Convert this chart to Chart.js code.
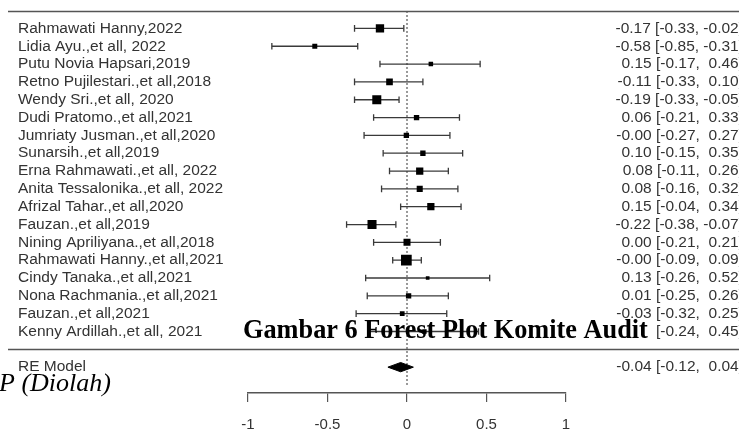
<!DOCTYPE html>
<html>
<head>
<meta charset="utf-8">
<script src="https://cdn.jsdelivr.net/npm/chart.js@4.4.0/dist/chart.umd.min.js"></script>
<style>
  html, body { margin: 0; padding: 0; background: #fff; }
</style>
</head>
<body>
<canvas id="chart" width="739" height="429"></canvas>
<script>
const studies = [
  'Rahmawati Hanny,2022',
  'Lidia Ayu.,et all, 2022',
  'Putu Novia Hapsari,2019',
  'Retno Pujilestari.,et all,2018',
  'Wendy Sri.,et all, 2020',
  'Dudi Pratomo.,et all,2021',
  'Jumriaty Jusman.,et all,2020',
  'Sunarsih.,et all,2019',
  'Erna Rahmawati.,et all, 2022',
  'Anita Tessalonika.,et all, 2022',
  'Afrizal Tahar.,et all,2020',
  'Fauzan.,et all,2019',
  'Nining Apriliyana.,et all,2018',
  'Rahmawati Hanny.,et all,2021',
  'Cindy Tanaka.,et all,2021',
  'Nona Rachmania.,et all,2021',
  'Fauzan.,et all,2021',
  'Kenny Ardillah.,et all, 2021'
];
const estimates = [-0.17, -0.58, 0.15, -0.11, -0.19, 0.06, -0.004, 0.10, 0.08, 0.08, 0.15, -0.22, 0.00, -0.004, 0.13, 0.01, -0.03, 0.11];
const lower     = [-0.33, -0.85, -0.17, -0.33, -0.33, -0.21, -0.27, -0.15, -0.11, -0.16, -0.04, -0.38, -0.21, -0.09, -0.26, -0.25, -0.32, -0.24];
const upper     = [-0.02, -0.31, 0.46, 0.10, -0.05, 0.33, 0.27, 0.35, 0.26, 0.32, 0.34, -0.07, 0.21, 0.09, 0.52, 0.26, 0.25, 0.45];
// relative weights (%)
const weights   = [7.0, 4.2, 3.8, 5.6, 7.6, 4.5, 4.5, 4.5, 6.1, 5.1, 6.1, 7.6, 5.9, 9.0, 3.1, 4.5, 4.0, 3.6];

const reLabel = 'RE Model';
const reEstimate = -0.04;
const reLower = -0.12;
const reUpper = 0.04;

const xTicks = [-1, -0.5, 0, 0.5, 1];
const xTickLabels = ['-1', '-0.5', '0', '0.5', '1'];

const caption = 'Gambar 6 Forest Plot Komite Audit';
const captionTail = 'Audit';
const source = 'P (Diolah)';

const rows = studies.map((s, i) => studies.length - i);
const topRow = studies.length + 1;
const reRow = -1;

function pad(v) {
  const s = v.toFixed(2);
  return s.length < 5 ? ' ' + s : s;
}
function ciText(e, lo, hi) {
  return e.toFixed(2) + ' [' + pad(lo) + ', ' + pad(hi) + ']';
}

const lineColor = '#3a3a3a';

const datasets = [];
datasets.push({
  label: 'estimates',
  data: estimates.map((e, i) => ({ x: e, y: rows[i] })),
  pointStyle: 'rect',
  pointRadius: weights.map(w => w * 0.84),
  backgroundColor: '#000',
  borderWidth: 0,
  pointBorderWidth: 0
});
datasets.push({
  label: 'summary',
  type: 'line',
  data: [
    { x: reLower, y: reRow },
    { x: reEstimate, y: reRow + 0.26 },
    { x: reUpper, y: reRow },
    { x: reEstimate, y: reRow - 0.26 },
    { x: reLower, y: reRow }
  ],
  borderColor: '#000',
  backgroundColor: '#000',
  borderWidth: 1,
  fill: 'shape',
  pointRadius: 0,
  tension: 0
});
studies.forEach((s, i) => {
  datasets.push({
    label: s,
    type: 'line',
    data: [{ x: lower[i], y: rows[i] }, { x: upper[i], y: rows[i] }],
    borderColor: lineColor,
    borderWidth: 1.3,
    pointStyle: 'line',
    pointRotation: 90,
    pointRadius: 3.3,
    pointBorderColor: lineColor,
    pointBorderWidth: 1.3,
    fill: false
  });
});
datasets.push({
  label: 'ref',
  type: 'line',
  data: [{ x: 0, y: -2 }, { x: 0, y: topRow }],
  borderColor: '#555',
  borderWidth: 1.2,
  borderDash: [2, 2],
  pointRadius: 0,
  fill: false
});

const forestText = {
  id: 'forestText',
  afterDraw(chart) {
    const ctx = chart.ctx;
    const ys = chart.scales.y;
    const W = chart.width;
    ctx.save();
    // separator lines
    ctx.strokeStyle = '#555';
    ctx.lineWidth = 1.5;
    [topRow, 0].forEach(v => {
      const y = Math.round(ys.getPixelForValue(v)) + 0.5;
      ctx.beginPath();
      ctx.moveTo(8, y);
      ctx.lineTo(W, y);
      ctx.stroke();
    });
    ctx.font = '15.5px "Liberation Sans", Arial, sans-serif';
    ctx.fillStyle = '#333';
    ctx.textBaseline = 'middle';
    studies.forEach((s, i) => {
      const y = ys.getPixelForValue(rows[i]);
      ctx.textAlign = 'left';
      ctx.fillText(s, 18, y);
      ctx.textAlign = 'right';
      ctx.fillText(ciText(estimates[i], lower[i], upper[i]), W + 4, y);
    });
    const yRe = ys.getPixelForValue(reRow);
    ctx.textAlign = 'left';
    ctx.fillText(reLabel, 18, yRe);
    ctx.textAlign = 'right';
    ctx.fillText(ciText(reEstimate, reLower, reUpper), W + 4, yRe);

    // caption overlay
    ctx.font = 'bold 26.3px "Liberation Serif", "Times New Roman", serif';
    ctx.textAlign = 'left';
    ctx.textBaseline = 'alphabetic';
    const cx = 243, cy = 338;
    const headW = ctx.measureText(caption.slice(0, caption.length - captionTail.length)).width;
    const tailW = ctx.measureText(captionTail).width;
    ctx.fillStyle = '#fff';
    ctx.fillRect(cx + headW - 2, cy - 20, tailW + 6, 26);
    ctx.fillStyle = '#000';
    ctx.fillText(caption, cx, cy);
    ctx.font = 'italic 26px "Liberation Serif", "Times New Roman", serif';
    ctx.fillText(source, -1, 391);
    ctx.restore();
  }
};

new Chart(document.getElementById('chart').getContext('2d'), {
  type: 'scatter',
  data: { datasets },
  options: {
    responsive: false,
    animation: false,
    devicePixelRatio: 1,
    layout: { padding: { left: 248, right: 173, top: 0, bottom: 0 } },
    plugins: { legend: { display: false }, tooltip: { enabled: false } },
    scales: {
      x: {
        type: 'linear',
        min: -1,
        max: 1,
        afterBuildTicks(scale) { scale.ticks = xTicks.map(v => ({ value: v })); },
        afterFit(scale) { scale.height = 36; },
        ticks: {
          padding: 14,
          color: '#333',
          font: { family: '"Liberation Sans", Arial, sans-serif', size: 15 },
          callback: (v) => xTickLabels[xTicks.indexOf(v)]
        },
        grid: { drawOnChartArea: false, drawTicks: true, tickLength: 9, color: '#555', lineWidth: 1.2 },
        border: { display: true, color: '#555', width: 1.5 }
      },
      y: { type: 'linear', display: false, min: -2.45, max: 19.17 }
    }
  },
  plugins: [forestText]
});
</script>
</body>
</html>
